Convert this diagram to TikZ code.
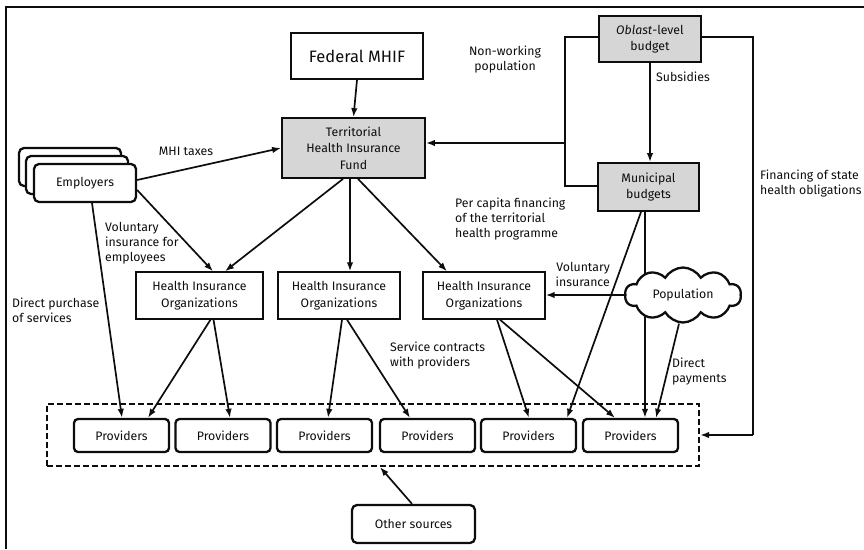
\documentclass[tikz,border=0pt]{standalone}
\usepackage{fontspec}
\setmainfont{Fira Sans}
\usetikzlibrary{arrows.meta,shapes.symbols}
\definecolor{boxgray}{gray}{0.84}
\definecolor{ink}{gray}{0.05}
\tikzset{
  base/.style={draw=ink, text=ink, align=center, inner sep=0pt, font=\fontsize{12.3}{16.5}\selectfont},
  plainbox/.style={base, line width=1.4pt},
  graybox/.style={base, line width=1.8pt, fill=boxgray},
  provbox/.style={base, line width=2.3pt, rounded corners=4pt, minimum width=95pt, minimum height=33pt},
  empbox/.style={base, line width=2.3pt, rounded corners=5pt, fill=white, minimum width=102pt, minimum height=38pt},
  lbl/.style={text=ink, align=left, inner sep=0pt, font=\fontsize{12.3}{14.8}\selectfont},
  arr/.style={draw=ink, line width=1.7pt, -{Latex[length=9pt,width=6.5pt]}},
  ln/.style={draw=ink, line width=1.7pt},
}
\begin{document}
\begin{tikzpicture}[x=1pt,y=-1pt]
\useasboundingbox (0,0) rectangle (864,549);
% frame
\draw[ink, line width=2pt] (6,549) -- (6,7) -- (864,7);

% nodes
\node[plainbox, line width=1.7pt, minimum width=132pt, minimum height=46pt, font=\fontsize{16.5}{18}\selectfont] (fed) at (357,56) {Federal MHIF};
\node[graybox, minimum width=143pt, minimum height=60pt] (terr) at (353.5,148) {Territorial\\Health Insurance\\Fund};
\node[graybox, minimum width=102pt, minimum height=46pt] (obl) at (650,39) {\textit{Oblast}-level\\budget};
\node[graybox, minimum width=101pt, minimum height=48pt] (mun) at (648.5,187) {Municipal\\budgets};

\node[empbox] (emp3) at (70,167) {};
\node[empbox] (emp2) at (77,175) {};
\node[empbox] (emp) at (85,183) {Employers};

\node[plainbox, minimum width=127pt, minimum height=47pt] (hio1) at (199.5,295.5) {Health Insurance\\Organizations};
\node[plainbox, minimum width=122pt, minimum height=47pt] (hio2) at (339,295.5) {Health Insurance\\Organizations};
\node[plainbox, minimum width=122pt, minimum height=47pt] (hio3) at (484,295.5) {Health Insurance\\Organizations};

\node[base, draw=ink, dashed, dash pattern=on 6pt off 3pt, line width=2.2pt, minimum width=652pt, minimum height=62pt] (dbox) at (373,435) {};
\node[provbox] (p1) at (121.5,435.5) {Providers};
\node[provbox] (p2) at (223,435.5) {Providers};
\node[provbox] (p3) at (324.5,435.5) {Providers};
\node[provbox] (p4) at (427.5,435.5) {Providers};
\node[provbox] (p5) at (528.5,435.5) {Providers};
\node[provbox] (p6) at (630.5,435.5) {Providers};

\node[provbox, minimum width=123pt, minimum height=38pt, rounded corners=5pt] (oth) at (413.5,524) {Other sources};

% connectors
\draw[arr] (fed.south) -- (terr.north);
\draw[arr] ([yshift=3pt]emp.east) -- (terr.west);
\draw[arr] ([yshift=-7pt]emp.east) -- ([xshift=13.5pt]hio1.north);
\draw[arr] ([xshift=-10.5pt]terr.south) -- ([xshift=25.5pt]hio1.north);
\draw[arr] ([xshift=-3.5pt]terr.south) -- ([xshift=11pt]hio2.north);
\draw[arr] ([xshift=4.5pt]terr.south) -- ([xshift=-37pt]hio3.north);

\draw[arr] ([xshift=7pt]emp.south) -- ([xshift=0.5pt]p1.north);
\draw[arr] ([xshift=11pt]hio1.south) -- ([xshift=26.5pt]p1.north);
\draw[arr] ([xshift=14pt]hio1.south) -- ([xshift=7pt]p2.north);
\draw[arr] ([xshift=3pt]hio2.south) -- ([xshift=3.5pt]p3.north);
\draw[arr] ([xshift=8pt]hio2.south) -- ([xshift=-17.5pt]p4.north);
\draw[arr] ([xshift=13pt]hio3.south) -- ([xshift=0.5pt]p5.north);
\draw[arr] ([xshift=16pt]hio3.south) -- ([xshift=-15.5pt]p6.north);

\draw[arr] ([xshift=-7.5pt]mun.south) -- ([xshift=38.5pt]p5.north);
\draw[arr] ([xshift=-3.5pt]mun.south) -- ([xshift=14.5pt]p6.north);

\node[cloud, cloud puffs=10, cloud puff arc=120, aspect=2.1, draw=ink, line width=2.3pt, fill=white, minimum width=116pt, minimum height=55pt, inner sep=0pt, text=ink, font=\fontsize{12.3}{14}\selectfont] (pop) at (683,295) {Population};

\draw[arr] ([xshift=-4pt]pop.south) -- ([xshift=25.5pt]p6.north);
\draw[arr] (pop.west) -- (pop.west -| hio3.east);

\draw[arr] (obl.south) -- (obl.south |- mun.north);
\coordinate (nwTop) at (565,37);
\coordinate (nwMid) at (565,143);
\coordinate (nwBot) at (565,186);
\draw[ln] (nwTop -| obl.west) -- (nwTop) -- (nwBot) -- (nwBot -| mun.west);
\draw[arr] (nwMid) -- (nwMid -| terr.east);

\coordinate (fsTop) at (753,37);
\coordinate (fsBot) at (753,435);
\draw[ln] (fsTop -| obl.east) -- (fsTop) -- (fsBot);
\draw[arr] (fsBot) -- (dbox.east);

\draw[arr] ([xshift=-1.5pt]oth.north) -- ([xshift=7pt]dbox.south);

% labels
\node[lbl, anchor=center] (lmhi) at (186,151) {MHI taxes};
\node[lbl, anchor=north west] (lvol) at (105,222) {Voluntary\\insurance for\\employees};
\node[lbl, anchor=north west] (ldir) at (12,298) {Direct purchase\\of services};
\node[lbl, anchor=north west] (lsrv) at (390,342) {Service contracts\\with providers};
\node[lbl, anchor=north, align=center] (lnw) at (505,46) {Non-working\\population};
\node[lbl, anchor=north west] (lsub) at (656,72) {Subsidies};
\node[lbl, anchor=north west] (lfin) at (760,170) {Financing of state\\health obligations};
\node[lbl, anchor=north west] (lper) at (455,198) {Per capita financing\\of the territorial\\health programme};
\node[lbl, anchor=north east, align=right] (lvi) at (610,262) {Voluntary\\insurance};
\node[lbl, anchor=north west] (ldp) at (672,358) {Direct\\payments};
\end{tikzpicture}
\end{document}
